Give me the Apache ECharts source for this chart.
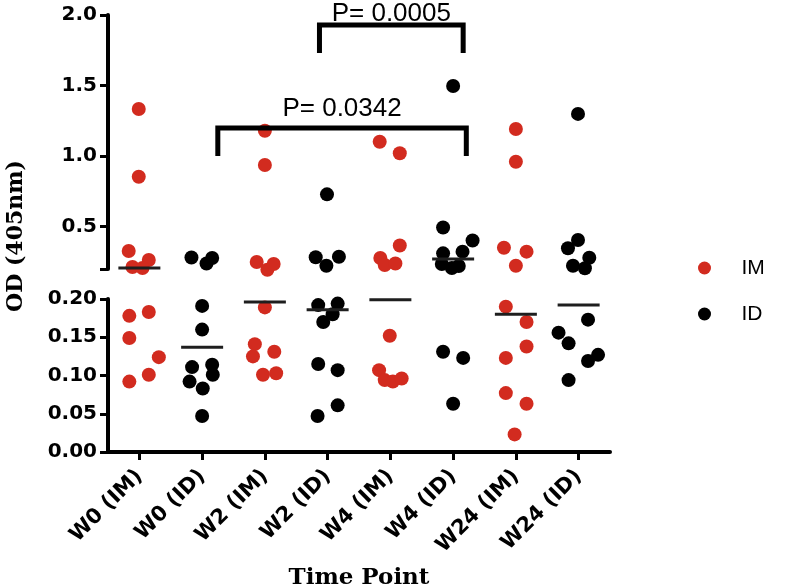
<!DOCTYPE html>
<html>
<head>
<meta charset="utf-8">
<script src="https://cdn.jsdelivr.net/npm/echarts@6/dist/echarts.min.js"></script>
<style>html,body{margin:0;padding:0;background:#fff}#c{width:790px;height:586px}</style>
</head>
<body>
<div id="c"></div>
<script>
const categories = ['W0 (IM)','W0 (ID)','W2 (IM)','W2 (ID)','W4 (IM)','W4 (ID)','W24 (IM)','W24 (ID)'];
const groups = ['IM','ID','IM','ID','IM','ID','IM','ID'];

// points shown in the upper (0.2 - 2.0) segment of the broken axis
const upperValues = [
  [1.334,0.854,0.328,0.264,0.214,0.207],
  [0.281,0.239,0.278],
  [1.180,0.937,0.250,0.195,0.235],
  [0.729,0.283,0.223,0.287],
  [1.102,1.020,0.367,0.278,0.228,0.239],
  [1.497,0.494,0.402,0.323,0.311,0.235,0.207,0.221],
  [1.192,0.960,0.351,0.323,0.223],
  [1.299,0.406,0.347,0.280,0.223,0.205]
];
const upperJitter = [
  [-0.01,-0.01,-0.17,0.15,-0.11,0.05],
  [-0.17,0.07,0.16],
  [0,0,-0.13,0.04,0.14],
  [-0.01,-0.19,-0.02,0.18],
  [-0.17,0.15,0.15,-0.16,-0.09,0.08],
  [0,-0.16,0.31,0.15,-0.16,-0.18,-0.02,0.09],
  [0,0,-0.19,0.17,0],
  [-0.01,-0.01,-0.17,0.17,-0.09,0.10]
];
// points shown in the lower (0 - 0.2) segment
const lowerValues = [
  [0.178,0.183,0.149,0.124,0.101,0.092],
  [0.191,0.160,0.111,0.114,0.101,0.092,0.083,0.047],
  [0.189,0.141,0.125,0.131,0.101,0.103],
  [0.192,0.194,0.180,0.170,0.115,0.107,0.047,0.061],
  [0.152,0.107,0.094,0.092,0.096],
  [0.131,0.123,0.063],
  [0.190,0.170,0.138,0.123,0.077,0.063,0.023],
  [0.173,0.156,0.142,0.119,0.127,0.094]
];
const lowerJitter = [
  [-0.16,0.15,-0.16,0.31,0.15,-0.16],
  [0,0,-0.16,0.16,0.17,-0.2,0.01,0],
  [0,-0.16,-0.19,0.15,-0.03,0.18],
  [-0.15,0.16,0.08,-0.07,-0.15,0.16,-0.16,0.16],
  [-0.01,-0.18,-0.09,0.04,0.18],
  [-0.16,0.16,0],
  [-0.16,0.17,0.17,-0.16,-0.16,0.17,-0.02],
  [0.15,-0.32,-0.16,0.15,0.31,-0.16]
];
const medians = [0.207,0.137,0.196,0.186,0.199,0.271,0.180,0.192];
const breakValue = 0.2;

const upperTicks = [0.2,0.5,1.0,1.5,2.0];
const upperLabels = [0.5,1.0,1.5,2.0];
const lowerTicks = [0,0.05,0.10,0.15,0.20];

const bracketLeft = [1.25, 2.87];
const bracketRight = [5.21, 5.16];
const bracketTop = [1.20, 1.93];
const bracketBottom = [1.00, 1.73];
const pLabels = ['P= 0.0342', 'P= 0.0005'];
const pLabelY = [1.335, 2.008];

const RED = '#d22b1f';
const BLACK = '#000000';

function pts(values, jitter, grp) {
  const out = [];
  values.forEach((arr, i) => {
    if (groups[i] !== grp) return;
    arr.forEach((v, j) => out.push([i + jitter[i][j], v]));
  });
  return out;
}
const medUpper = [], medLower = [];
medians.forEach((m, i) => (m >= breakValue ? medUpper : medLower).push([i, m]));

const bracketSeries = bracketLeft.map((l, k) => ({
  type: 'line', xAxisIndex: 0, yAxisIndex: 0, silent: true, clip: false,
  symbol: 'none', z: 5,
  lineStyle: { color: BLACK, width: 5, cap: 'butt', join: 'miter' },
  data: [[l, bracketBottom[k]], [l, bracketTop[k]], [bracketRight[k], bracketTop[k]], [bracketRight[k], bracketBottom[k]]]
}));
const pSeries = {
  type: 'scatter', xAxisIndex: 0, yAxisIndex: 0, clip: false, silent: true,
  symbolSize: 0, itemStyle: { color: 'rgba(0,0,0,0)', opacity: 1 }, z: 6,
  label: { show: true, position: 'inside', formatter: p => p.data.name, opacity: 1,
           color: BLACK, fontFamily: 'Liberation Sans', fontSize: 26 },
  data: pLabels.map((t, k) => ({ name: t, value: [(bracketLeft[k] + bracketRight[k]) / 2, pLabelY[k]] }))
};

const dotBase = { type: 'scatter', symbol: 'circle', symbolSize: 14, clip: false, z: 3 };
const medBase = { type: 'scatter', symbol: 'rect', symbolSize: [42, 3], clip: false, z: 4,
                  itemStyle: { color: '#1e1e1e', opacity: 1 }, silent: true, legendHoverLink: false };

const axisFont = { fontFamily: 'DejaVu Sans', fontWeight: 'bold', fontSize: 20, color: BLACK };

const option = {
  animation: false,
  backgroundColor: '#ffffff',
  grid: [
    { left: 108, width: 502, top: 15, height: 254, outerBoundsMode: 'none', containLabel: false },
    { left: 108, width: 502, top: 299, height: 153, outerBoundsMode: 'none', containLabel: false }
  ],
  xAxis: [
    { gridIndex: 0, type: 'value', min: -0.5, max: 7.5, show: false },
    { gridIndex: 1, type: 'value', min: -0.5, max: 7.5,
      axisLine: { show: true, onZero: false, lineStyle: { color: BLACK, width: 4 } },
      axisTick: { show: true, customValues: categories.map((c, i) => i), length: 8, lineStyle: { color: BLACK, width: 3 } },
      axisLabel: Object.assign({}, axisFont, { customValues: categories.map((c, i) => i), rotate: 45, margin: 21,
        fontSize: 21, formatter: v => categories[Math.round(v)] }),
      splitLine: { show: false },
      name: 'Time Point', nameLocation: 'middle', nameGap: 115,
      nameTextStyle: { fontFamily: 'DejaVu Serif', fontWeight: 'bold', fontSize: 23, color: BLACK }
    }
  ],
  yAxis: [
    { gridIndex: 0, type: 'value', min: 0.2, max: 2.0,
      axisLine: { show: true, onZero: false, lineStyle: { color: BLACK, width: 4 } },
      axisTick: { show: true, customValues: upperTicks, length: 8, lineStyle: { color: BLACK, width: 3 } },
      axisLabel: Object.assign({ customValues: upperLabels, margin: 11, formatter: v => v.toFixed(1) }, axisFont),
      splitLine: { show: false }
    },
    { gridIndex: 1, type: 'value', min: 0, max: 0.2, interval: 0.05,
      axisLine: { show: true, onZero: false, lineStyle: { color: BLACK, width: 4 } },
      axisTick: { show: true, customValues: lowerTicks, length: 8, lineStyle: { color: BLACK, width: 3 } },
      axisLabel: Object.assign({ customValues: lowerTicks, margin: 11, formatter: v => v.toFixed(2) }, axisFont),
      splitLine: { show: false }
    }
  ],
  legend: {
    orient: 'vertical', left: 693, top: 252.5, itemWidth: 64, itemHeight: 13, itemGap: 25,
    icon: 'circle', data: ['IM', 'ID'], selectedMode: false,
    textStyle: { fontFamily: 'Liberation Sans', fontSize: 21, color: BLACK, lineHeight: 20 }
  },
  graphic: [{
    type: 'text', x: 16, y: 236, rotation: Math.PI / 2,
    style: { text: 'OD (405nm)', align: 'center', verticalAlign: 'middle',
             font: 'bold 22px "DejaVu Serif"', fill: BLACK }
  }],
  series: [
    Object.assign({}, dotBase, { name: 'IM', xAxisIndex: 0, yAxisIndex: 0, itemStyle: { color: RED, opacity: 1 }, data: pts(upperValues, upperJitter, 'IM') }),
    Object.assign({}, dotBase, { name: 'ID', xAxisIndex: 0, yAxisIndex: 0, itemStyle: { color: BLACK, opacity: 1 }, data: pts(upperValues, upperJitter, 'ID') }),
    Object.assign({}, dotBase, { name: 'IM', xAxisIndex: 1, yAxisIndex: 1, itemStyle: { color: RED, opacity: 1 }, data: pts(lowerValues, lowerJitter, 'IM') }),
    Object.assign({}, dotBase, { name: 'ID', xAxisIndex: 1, yAxisIndex: 1, itemStyle: { color: BLACK, opacity: 1 }, data: pts(lowerValues, lowerJitter, 'ID') }),
    Object.assign({}, medBase, { name: 'median', xAxisIndex: 0, yAxisIndex: 0, data: medUpper }),
    Object.assign({}, medBase, { name: 'median', xAxisIndex: 1, yAxisIndex: 1, data: medLower }),
    ...bracketSeries,
    pSeries
  ]
};
const chart = echarts.init(document.getElementById('c'), null, { renderer: 'canvas' });
chart.setOption(option);
</script>
</body>
</html>
